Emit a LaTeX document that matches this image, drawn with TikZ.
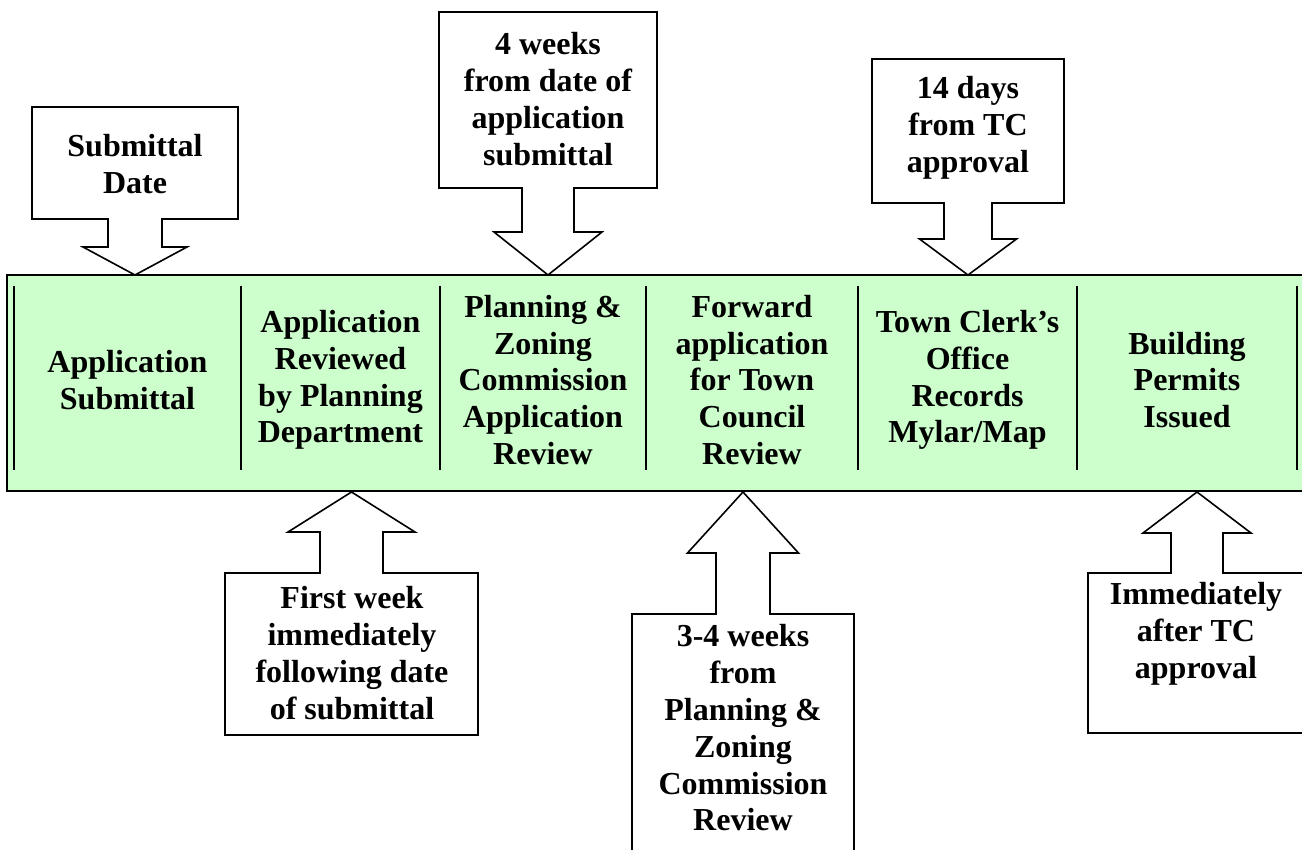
\documentclass[tikz,border=0pt]{standalone}
\usepackage{fontspec}
\setmainfont{Liberation Serif}
\usepackage{xcolor}
\usepackage{tikz}
\definecolor{PermitGreen}{RGB}{204,255,204}

\begin{document}
\begin{tikzpicture}[x=1pt, y=-1pt,
		line/.style={line width=1.6pt, line join=miter},
		txt/.style={font=\fontsize{32}{36.8}\selectfont\bfseries, align=center, inner sep=0pt}
		]
		\useasboundingbox (0,0) rectangle (1302,850);
		\clip (0,0) rectangle (1302,850);
		
		% ===== green band with the six steps =====
		\draw[line, fill=PermitGreen] (7,275) rectangle (1340,491);
		\foreach \x in {14,241,440,646,858,1077,1297}{
			\draw[line] (\x,286) -- (\x,470);
		}
		\foreach \x/\t [count=\i from 1] in {127.5/{Application\\Submittal},
			340.5/{Application\\Reviewed\\by Planning\\Department},
			543/{Planning \&\\Zoning\\Commission\\Application\\Review},
			752/{Forward\\application\\for Town\\Council\\Review},
			967.5/{Town Clerk’s\\Office\\Records\\Mylar/Map},
			1187/{Building\\Permits\\Issued}}{
			\node[txt] (S\i) at (\x,380) {\t};
		}
		
		% ===== callouts: box + arrow pointing to the band =====
		\foreach \xl/\xr/\yf/\yn/\xc/\ws/\wh/\yb/\yt in {
			32/238/107/219/135/27/52/247/275,
			439/657/12/188/548/26/54/232/275,
			872/1064/59/203/968/24/48.5/239/275,
			225/478/735/573/351.5/31.5/63.5/532/492,
			632/854/900/614/743/27/55.5/553/492,
			1088/1360/733/573/1197/26/54/533/492}{
			\draw[line] (\xl,\yf) -- (\xr,\yf) -- (\xr,\yn) -- ({\xc+\ws},\yn)
			-- ({\xc+\ws},\yb) -- ({\xc+\wh},\yb) -- (\xc,\yt) -- ({\xc-\wh},\yb)
			-- ({\xc-\ws},\yb) -- ({\xc-\ws},\yn) -- (\xl,\yn) -- cycle;
		}
		\node[txt] (T1) at (135,164) {Submittal\\Date};
		\node[txt] (T2) at (548,99) {4 weeks\\from date of\\application\\submittal};
		\node[txt] (T3) at (968,128) {14 days\\from TC\\approval};
		\node[txt] (T4) at (352,653) {First week\\immediately\\following date\\of submittal};
		\node[txt] (T5) at (743,728) {3-4 weeks\\from\\Planning \&\\Zoning\\Commission\\Review};
		\node[txt] (T6) at (1196,634) {Immediately\\after TC\\approval};
		
	\end{tikzpicture}
\end{document}
